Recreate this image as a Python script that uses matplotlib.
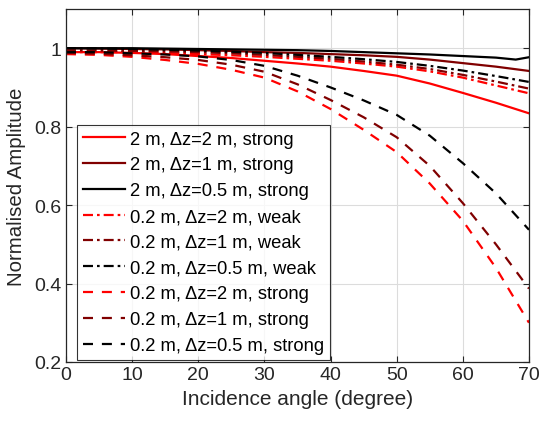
import matplotlib
matplotlib.use("Agg")
import matplotlib.pyplot as plt

plt.rcParams['font.family'] = ['Liberation Sans', 'DejaVu Sans']

angles = [0, 5, 10, 15, 20, 25, 30, 35, 40, 45, 50, 55, 60, 65, 70]
angles_end = [0, 5, 10, 15, 20, 25, 30, 35, 40, 45, 50, 55, 60, 65, 68, 70]

s2_dz2_strong = [0.990, 0.990, 0.988, 0.985, 0.980, 0.975, 0.968, 0.961, 0.953, 0.942, 0.930, 0.910, 0.886, 0.861, 0.834]
s2_dz1_strong = [1.000, 0.999, 0.998, 0.997, 0.995, 0.993, 0.990, 0.988, 0.985, 0.982, 0.978, 0.971, 0.962, 0.953, 0.942]
s2_dz05_strong = [1.000, 1.000, 1.000, 0.999, 0.998, 0.997, 0.996, 0.995, 0.993, 0.990, 0.987, 0.984, 0.980, 0.976, 0.971, 0.977]
w02_dz2 = [0.990, 0.990, 0.990, 0.988, 0.985, 0.982, 0.978, 0.973, 0.968, 0.961, 0.953, 0.941, 0.925, 0.905, 0.885]
w02_dz1 = [0.995, 0.994, 0.993, 0.992, 0.990, 0.987, 0.983, 0.978, 0.973, 0.966, 0.958, 0.947, 0.932, 0.915, 0.897]
w02_dz05 = [1.000, 0.999, 0.998, 0.996, 0.994, 0.991, 0.988, 0.983, 0.978, 0.972, 0.965, 0.955, 0.943, 0.929, 0.914]
s02_dz2 = [0.985, 0.983, 0.978, 0.970, 0.960, 0.945, 0.925, 0.890, 0.845, 0.792, 0.735, 0.655, 0.560, 0.440, 0.300]
s02_dz1 = [0.988, 0.986, 0.982, 0.977, 0.970, 0.958, 0.940, 0.908, 0.868, 0.824, 0.773, 0.700, 0.605, 0.500, 0.387]
s02_dz05 = [0.990, 0.990, 0.987, 0.984, 0.979, 0.970, 0.955, 0.930, 0.900, 0.867, 0.830, 0.777, 0.707, 0.630, 0.537]

labels = ['2 m, Δz=2 m, strong', '2 m, Δz=1 m, strong', '2 m, Δz=0.5 m, strong',
          '0.2 m, Δz=2 m, weak', '0.2 m, Δz=1 m, weak', '0.2 m, Δz=0.5 m, weak',
          '0.2 m, Δz=2 m, strong', '0.2 m, Δz=1 m, strong', '0.2 m, Δz=0.5 m, strong']

RED = '#ff0000'
DRED = '#800000'
BLK = '#000000'

fig = plt.figure(figsize=(5.39, 4.27), dpi=100)
ax = fig.add_axes([0.1224, 0.150, 0.859, 0.8266])

lw = 1.6
dash = (0, (4.5, 4))
dashdot = (0, (4.5, 1.8, 1.2, 1.8))
series = [
    (angles, s2_dz2_strong, RED, '-'),
    (angles, s2_dz1_strong, DRED, '-'),
    (angles_end, s2_dz05_strong, BLK, '-'),
    (angles, w02_dz2, RED, dashdot),
    (angles, w02_dz1, DRED, dashdot),
    (angles, w02_dz05, BLK, dashdot),
    (angles, s02_dz2, RED, dash),
    (angles, s02_dz1, DRED, dash),
    (angles, s02_dz05, BLK, dash),
]
for (x, y, c, ls), lab in zip(series, labels):
    ax.plot(x, y, color=c, linestyle=ls, linewidth=lw, label=lab)

ax.set_xlim(0, 70)
ax.set_ylim(0.2, 1.1)
ax.set_xticks([0, 10, 20, 30, 40, 50, 60, 70])
ax.set_yticks([0.2, 0.4, 0.6, 0.8, 1.0])
ax.set_yticklabels(['0.2', '0.4', '0.6', '0.8', '1'])
ax.grid(True, color='#dcdcdc', linewidth=0.8)
ax.set_axisbelow(True)
ax.tick_params(direction='in', top=True, right=True, labelsize=14, colors='#262626', length=4, pad=3)
for sp in ax.spines.values():
    sp.set_color('#262626')
    sp.set_linewidth(0.9)
ax.set_xlabel('Incidence angle (degree)', fontsize=15, color='#262626', labelpad=4)
ax.set_ylabel('Normalised Amplitude', fontsize=14.7, color='#262626', labelpad=6)

leg = ax.legend(loc='upper left', bbox_to_anchor=(0.024, 0.671), borderaxespad=0,
                fontsize=13.2, frameon=True, fancybox=False, edgecolor='#000000',
                handlelength=2.3, handletextpad=0.3, labelspacing=0.48, borderpad=0.3)
leg.get_frame().set_linewidth(0.8)

fig.savefig('out.png', dpi=100)
